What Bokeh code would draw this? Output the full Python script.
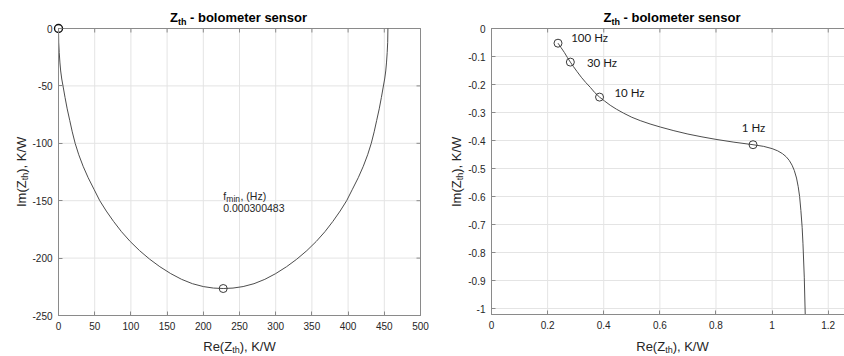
from math import pi
from bokeh.plotting import figure
from bokeh.layouts import row
from bokeh.models import Label, FixedTicker, CustomJSTickFormatter, Range1d, ColumnDataSource
from bokeh.core.properties import value
from bokeh.embed import file_html
from bokeh.resources import INLINE

# ---------------- data ----------------
# Left panel: full Nyquist curve of Z_th  (Re, Im in K/W)
full_re = [0, 0.3, 1, 2, 3, 4.5, 6.5, 9, 12, 15.5, 19, 23, 28, 34, 41, 49, 57, 66, 76, 87,
           99, 112, 126, 140, 155, 170, 185, 200, 214, 227.5, 241, 255, 270, 285, 300, 315,
           329, 343, 356, 368, 379, 389, 398, 406, 414, 421, 427, 432, 436, 439.5, 443,
           446, 448.5, 450.5, 452, 453, 454, 454.7, 455]
full_im = [0, -12, -21, -30, -37, -44, -51, -60, -70, -80, -90, -100, -110, -120, -130,
           -140, -150, -159, -168, -177, -185.5, -193.5, -201, -207.5, -213.5, -218.5,
           -222.3, -224.8, -226.1, -226.5, -226.1, -224.8, -222.3, -218.5, -213.5, -207.5,
           -201, -193.5, -185.5, -177, -168, -159, -150, -140, -130, -120, -110, -100, -90,
           -80, -70, -60, -51, -44, -37, -30, -21, -12, 0]
origin_re = [0]
origin_im = [0]
fmin_re = [227.5]
fmin_im = [-226.5]
fmin_text = "0.000300483"

# Right panel: zoom on the high-frequency part
zoom_re = [0.237, 0.248, 0.2596, 0.270, 0.281, 0.292, 0.305, 0.320, 0.336, 0.352, 0.368,
           0.385, 0.403, 0.423, 0.445, 0.47, 0.50, 0.53, 0.565, 0.602, 0.65, 0.70, 0.75,
           0.80, 0.864, 0.932, 0.97, 1.00, 1.02, 1.037, 1.05, 1.061, 1.071, 1.079, 1.087,
           1.093, 1.098, 1.1025, 1.107, 1.110, 1.1146, 1.118]
zoom_im = [-0.0525, -0.0685, -0.0855, -0.103, -0.120, -0.136, -0.154, -0.174, -0.193,
           -0.210, -0.229, -0.245, -0.259, -0.274, -0.288, -0.302, -0.317, -0.329, -0.341,
           -0.352, -0.365, -0.377, -0.387, -0.396, -0.406, -0.415, -0.421, -0.429, -0.437,
           -0.447, -0.458, -0.471, -0.488, -0.507, -0.534, -0.565, -0.60, -0.65, -0.71,
           -0.769, -0.888, -1.021]
freq_labels = ["100 Hz", "30 Hz", "10 Hz", "1 Hz"]
freq_re = [0.237, 0.281, 0.385, 0.932]
freq_im = [-0.0525, -0.120, -0.245, -0.415]
label_re = [0.284, 0.340, 0.438, 0.892]
label_im = [-0.031, -0.120, -0.2275, -0.3525]

left_xlim = [0, 500]
left_ylim = [-250, 0]
right_xlim = [0, 1.3]
right_ylim = [-1.0214, 0]
left_xticks = [0, 50, 100, 150, 200, 250, 300, 350, 400, 450, 500]
left_yticks = [-250, -200, -150, -100, -50, 0]
right_xticks = [0, 0.2, 0.4, 0.6, 0.8, 1, 1.2]
right_yticks = [-1, -0.9, -0.8, -0.7, -0.6, -0.5, -0.4, -0.3, -0.2, -0.1, 0]

# ---------------- styling ----------------
AX = "#8a8a8a"
TXT = "#262626"
GRID = "#e4e4e4"
LINE = "#4d4d4d"
FONT = "Liberation Sans"
H = 356


def make_fig(width, box, xlim, ylim, xt, yt, right_ticks):
    """box = (left, top, right, bottom) pixel edges of the axes box in this canvas."""
    bl, bt, br, bb = box
    sx = (br - bl) / (xlim[1] - xlim[0])
    sy = (bb - bt) / (ylim[1] - ylim[0])
    xr = Range1d(xlim[0] - bl / sx, xlim[1] + (width - br) / sx)
    yr = Range1d(ylim[0] - (H - bb) / sy, ylim[1] + bt / sy)
    p = figure(width=width, height=H, x_range=xr, y_range=yr,
               output_backend="svg", toolbar_location=None, min_border=0,
               outline_line_color=None, background_fill_color="white",
               border_fill_color="white")
    p.xgrid.visible = False
    p.ygrid.visible = False
    # grid lines
    p.segment(x0=xt, y0=ylim[0], x1=xt, y1=ylim[1], line_color=GRID, line_width=1)
    p.segment(x0=xlim[0], y0=yt, x1=xlim[1], y1=yt, line_color=GRID, line_width=1)
    # axes box
    p.quad(left=xlim[0], right=xlim[1], bottom=ylim[0], top=ylim[1], fill_color=None,
           line_color=AX, line_width=1)
    fmt = CustomJSTickFormatter(code="return String(Number(tick.toFixed(6)))")
    for ax, ticks, loc, bnd in ((p.xaxis[0], xt, ylim[0], xlim), (p.yaxis[0], yt, xlim[0], ylim)):
        ax.fixed_location = loc
        ax.bounds = tuple(bnd)
        ax.ticker = FixedTicker(ticks=ticks)
        ax.formatter = fmt
        ax.axis_line_color = AX
        ax.major_tick_line_color = AX
        ax.major_tick_in = 4
        ax.major_tick_out = 0
        ax.minor_tick_in = 0
        ax.minor_tick_out = 0
        ax.major_label_text_font = FONT
        ax.major_label_text_font_size = "10px"
        ax.major_label_text_color = TXT
        ax.major_label_standoff = 6
    # box ticks on the top (and right) edge, pointing inward
    p.ray(x=xt, y=ylim[1], length=4, length_units="screen", angle=-pi / 2,
          line_color=AX, line_width=1)
    if right_ticks:
        p.ray(x=xlim[1], y=yt, length=4, length_units="screen", angle=pi,
              line_color=AX, line_width=1)
    return p


def lab(p, x, y, text, size, bold=False, angle=0.0, font=FONT, color=TXT):
    p.add_layout(Label(x=x, y=y, x_units="canvas", y_units="canvas", text=text,
                       text_font=font, text_font_size=f"{size}px",
                       text_font_style="bold" if bold else "normal",
                       text_color=color, text_align="left", text_baseline="alphabetic",
                       angle=angle))


def decorate(p, title_x, xlab_x, ylab_x):
    # title  Z_th - bolometer sensor
    lab(p, title_x, 17.3, "Z", 13, bold=True, color="#000000")
    lab(p, title_x + 7.9, 21, "th", 9, bold=True, color="#000000")
    lab(p, title_x + 20.0, 17.3, "- bolometer sensor", 13, bold=True, color="#000000")
    # x label  Re(Z_th), K/W
    lab(p, xlab_x, 346, "Re(Z", 13)
    lab(p, xlab_x + 28.9, 349.5, "th", 9)
    lab(p, xlab_x + 36.4, 346, "), K/W", 13)
    # y label  Im(Z_th), K/W
    lab(p, ylab_x, 206.5, "Im(Z", 13, angle=pi / 2)
    lab(p, ylab_x + 3.5, 179.8, "th", 9, angle=pi / 2)
    lab(p, ylab_x, 172.3, "), K/W", 13, angle=pi / 2)


# ---------------- left panel ----------------
p1 = make_fig(440, (58, 28, 420, 315), left_xlim, left_ylim, left_xticks, left_yticks, True)
p1.line(full_re, full_im, line_color=LINE, line_width=1)
p1.scatter(fmin_re, fmin_im, marker="circle", size=8, fill_color=None,
           line_color="#3a3a3a", line_width=1)
p1.scatter(origin_re, origin_im, marker="circle", size=8, fill_color=None,
           line_color="#111111", line_width=1.4)
decorate(p1, 169.5, 202.75, 21)
lab(p1, 222.7, 195.5, "f", 10.5)
lab(p1, 225.8, 198.5, "min", 8.5)
lab(p1, 240.0, 195.5, ", (Hz)", 10.5)
lab(p1, 222.7, 207.5, fmin_text, 10.5)

# ---------------- right panel (its right edge is cut off by the picture) ----------------
p2 = make_fig(404, (51, 28, 415.8, 314), right_xlim, right_ylim, right_xticks, right_yticks, False)
p2.line(zoom_re, zoom_im, line_color=LINE, line_width=1)
p2.scatter(freq_re, freq_im, marker="circle", size=8, fill_color=None,
           line_color="#3a3a3a", line_width=1)
src = ColumnDataSource(dict(x=label_re, y=label_im, t=freq_labels))
p2.text(x="x", y="y", text="t", source=src, text_font=value("Lato"),
        text_font_size="11.5px", text_color="#1a1a1a", text_baseline="middle",
        text_align="left")
decorate(p2, 603 - 440, 635.75 - 440, 16)

layout = row(p1, p2)
open("out.html", "w").write(file_html(layout, INLINE))
